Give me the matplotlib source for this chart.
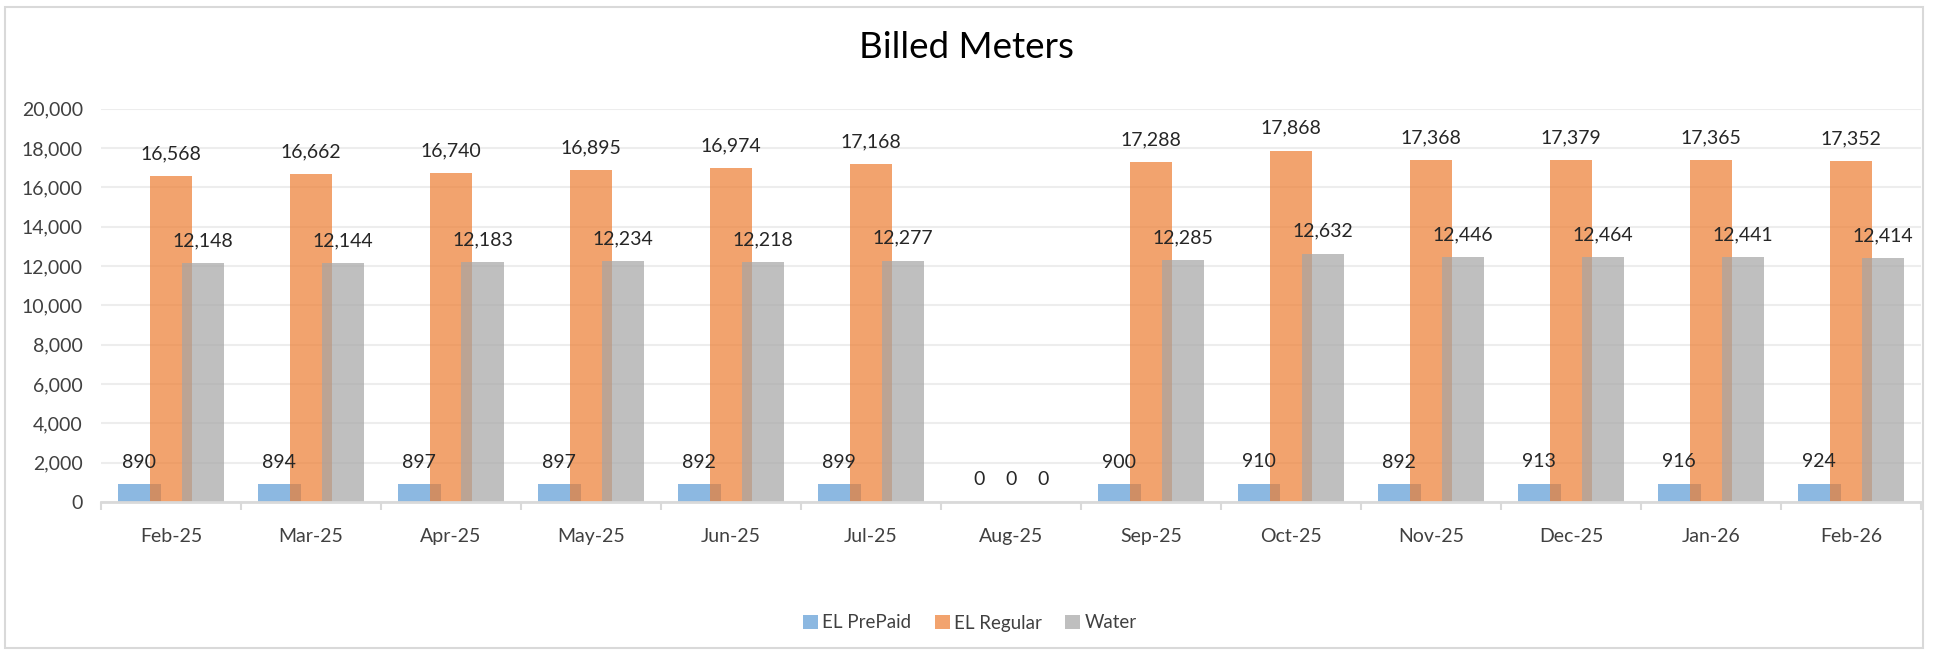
import numpy as np
import matplotlib
matplotlib.use('Agg')
import matplotlib.pyplot as plt
from matplotlib.patches import Rectangle, Patch
from matplotlib.ticker import FuncFormatter, FixedLocator

months = ['Feb-25', 'Mar-25', 'Apr-25', 'May-25', 'Jun-25', 'Jul-25', 'Aug-25',
          'Sep-25', 'Oct-25', 'Nov-25', 'Dec-25', 'Jan-26', 'Feb-26']
el_prepaid = [890, 894, 897, 897, 892, 899, 0, 900, 910, 892, 913, 916, 924]
el_regular = [16568, 16662, 16740, 16895, 16974, 17168, 0, 17288, 17868, 17368, 17379, 17365, 17352]
water = [12148, 12144, 12183, 12234, 12218, 12277, 0, 12285, 12632, 12446, 12464, 12441, 12414]
series_names = ['EL PrePaid', 'EL Regular', 'Water']


def main():
    plt.rcParams['font.family'] = ['Lato', 'DejaVu Sans']
    text_color = '#404040'

    fig = plt.figure(figsize=(19.35, 6.55), dpi=100)
    ax = fig.add_axes([101 / 1935, 1 - 502 / 655, 1820 / 1935, (502 - 108.6) / 655])

    # chart border
    fig.patches.append(Rectangle((5 / 1935, 7 / 655), 1918 / 1935, 641 / 655,
                                 transform=fig.transFigure, fill=False,
                                 edgecolor='#D9D9D9', linewidth=1.5))

    x = np.arange(len(months))
    width = 0.304
    step = 0.227
    colors = ['#5B9BD5', '#ED7D31', '#A5A5A5']
    data = [el_prepaid, el_regular, water]

    # overlapping, semi-transparent bars like the Excel original
    for i, (vals, col) in enumerate(zip(data, colors)):
        pos = x + (i - 1) * step
        ax.bar(pos, vals, width=width, color=col, alpha=0.7, linewidth=0, zorder=2)
        for p, v in zip(pos, vals):
            ax.annotate(f'{v:,}', (p, v), xytext=(0, 16), textcoords='offset points',
                        ha='center', va='center', fontsize=14, color='#262626')

    ax.set_xlim(-0.5, len(months) - 0.5)
    ax.set_ylim(0, 20000)
    ax.set_yticks(np.arange(0, 20001, 2000))
    ax.yaxis.set_major_formatter(FuncFormatter(lambda v, p: f'{int(v):,}'))
    ax.grid(axis='y', color='#EDEDED', linewidth=1.5, zorder=0)

    ax.set_xticks(x)
    ax.set_xticklabels(months)
    ax.xaxis.set_minor_locator(FixedLocator(np.arange(-0.5, len(months), 1)))
    ax.tick_params(axis='x', which='major', length=0, pad=19, labelsize=14, labelcolor=text_color)
    ax.tick_params(axis='x', which='minor', length=6, width=1.5, color='#D9D9D9', direction='out')
    ax.tick_params(axis='y', length=0, pad=13, labelsize=14, labelcolor=text_color)

    for side in ['top', 'right', 'left']:
        ax.spines[side].set_visible(False)
    ax.spines['bottom'].set_color('#D9D9D9')
    ax.spines['bottom'].set_linewidth(2)
    ax.spines['bottom'].set_zorder(3)

    fig.text(966 / 1935, 1 - 48 / 655, 'Billed Meters', ha='center', va='center',
             fontsize=26.5, color='#000000')

    handles = [Patch(facecolor=c, alpha=0.7, linewidth=0) for c in colors]
    fig.legend(handles, series_names, loc='center', bbox_to_anchor=(970 / 1935, 1 - 623 / 655),
               ncol=3, frameon=False, fontsize=13.5, handlelength=0.8, handleheight=0.8,
               handletextpad=0.22, columnspacing=1.25, labelcolor=text_color)

    fig.savefig('out.png', dpi=100)


if __name__ == "__main__":
    main()
